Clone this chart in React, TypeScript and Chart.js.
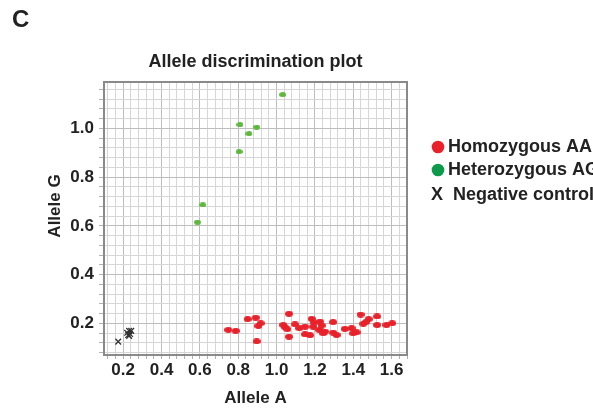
import { useEffect, useRef } from "react";
import { Chart, registerables } from "chart.js";
Chart.register(...registerables);

const seriesNames = ["Homozygous AA", "Heterozygous AG", "Negative control"];

const aaA = [0.748, 0.787, 0.849, 0.891, 0.917, 0.905, 0.896, 1.065, 1.035, 1.044, 1.056, 1.065, 1.096, 1.118, 1.148, 1.148, 1.174, 1.183, 1.195, 1.191, 1.226, 1.235, 1.222, 1.252, 1.243, 1.295, 1.295, 1.313, 1.356, 1.391, 1.399, 1.417, 1.438, 1.48, 1.466, 1.452, 1.524, 1.524, 1.573, 1.603];
const aaG = [0.173, 0.169, 0.217, 0.223, 0.2, 0.189, 0.126, 0.239, 0.193, 0.184, 0.176, 0.145, 0.196, 0.18, 0.186, 0.155, 0.151, 0.218, 0.203, 0.186, 0.207, 0.191, 0.173, 0.166, 0.159, 0.205, 0.162, 0.152, 0.177, 0.18, 0.159, 0.163, 0.236, 0.217, 0.205, 0.198, 0.228, 0.193, 0.193, 0.2];

const agA = [1.032, 0.809, 0.896, 0.856, 0.804, 0.615, 0.587];
const agG = [1.138, 1.015, 1.005, 0.978, 0.904, 0.686, 0.615];

const ncA = [0.221, 0.231, 0.236, 0.226, 0.242, 0.231, 0.174];
const ncG = [0.161, 0.169, 0.156, 0.152, 0.169, 0.148, 0.125];

const xTickLabels = [0.2, 0.4, 0.6, 0.8, 1.0, 1.2, 1.4, 1.6];
const yTickLabels = [0.2, 0.4, 0.6, 0.8, 1.0];

const FONT = "'Liberation Sans', Arial, Helvetica, sans-serif";

function ellipse(color: string, w: number, h: number) {
  const c = document.createElement("canvas");
  c.width = w;
  c.height = h;
  const g = c.getContext("2d")!;
  g.fillStyle = color;
  g.beginPath();
  g.ellipse(w / 2, h / 2, w / 2, h / 2, 0, 0, Math.PI * 2);
  g.fill();
  return c;
}

function pts(xs: number[], ys: number[]) {
  return xs.map((x, i) => ({ x, y: ys[i] }));
}

function gridTicks(scale: any, step: number) {
  const out: any[] = [];
  const start = Math.ceil(scale.min / step - 1e-9);
  const end = Math.floor(scale.max / step + 1e-9);
  for (let k = start; k <= end; k++) out.push({ value: Math.round(k * step * 1000) / 1000 });
  scale.ticks = out;
}

const isMajor = (v: number) => Math.abs(v * 5 - Math.round(v * 5)) < 1e-6;

const decorPlugin = {
  id: "decor",
  beforeDatasetsDraw(chart: any) {
    const { ctx, chartArea: a } = chart;
    ctx.save();
    ctx.strokeStyle = "#8a8a8a";
    ctx.lineWidth = 2;
    ctx.strokeRect(a.left, a.top, a.right - a.left, a.bottom - a.top);
    ctx.restore();
  },
  afterDraw(chart: any) {
    const ctx = chart.ctx;
    ctx.save();
    ctx.fillStyle = "#222";
    ctx.font = `bold 24px ${FONT}`;
    ctx.textAlign = "left";
    ctx.textBaseline = "alphabetic";
    ctx.fillText("C", 12, 27);

    ctx.font = `bold 17px ${FONT}`;
    ctx.save();
    ctx.translate(55, 206);
    ctx.rotate(-Math.PI / 2);
    ctx.textAlign = "center";
    ctx.textBaseline = "middle";
    ctx.fillText("Allele G", 0, 0);
    ctx.restore();

    ctx.font = `bold 18px ${FONT}`;
    const rowsY = [147, 170, 195];
    ctx.textBaseline = "middle";
    ctx.textAlign = "left";
    chart.data.datasets.forEach((ds: any, i: number) => {
      const y = rowsY[i];
      if (ds.legendMarker === "x") {
        ctx.fillStyle = "#222";
        ctx.fillText("X", 431, y);
        ctx.fillText(ds.label, 453, y);
      } else {
        ctx.fillStyle = ds.legendColor;
        ctx.beginPath();
        ctx.arc(438, y, 6.3, 0, Math.PI * 2);
        ctx.fill();
        ctx.fillStyle = "#222";
        ctx.fillText(ds.label, 448, y);
      }
    });
    ctx.restore();
  },
};

export default function App() {
  const ref = useRef<HTMLCanvasElement>(null);
  useEffect(() => {
    Chart.defaults.font.family = FONT;
    Chart.defaults.color = "#222";
    const chart = new Chart(ref.current!, {
      type: "scatter",
      data: {
        datasets: [
          {
            label: seriesNames[0],
            data: pts(aaA, aaG),
            pointStyle: ellipse("#e8212a", 8, 6) as any,
            legendColor: "#e8212a",
          } as any,
          {
            label: seriesNames[1],
            data: pts(agA, agG),
            pointStyle: ellipse("#5cb83a", 7, 5) as any,
            legendColor: "#0c9a4b",
          } as any,
          {
            label: seriesNames[2],
            data: pts(ncA, ncG),
            pointStyle: "crossRot",
            radius: 4,
            borderWidth: 1.3,
            borderColor: "#333",
            legendMarker: "x",
          } as any,
        ],
      },
      options: {
        animation: false,
        responsive: false,
        layout: { padding: { left: 0, right: 186, top: 0, bottom: 0 } },
        plugins: {
          legend: { display: false },
          tooltip: { enabled: false },
          title: {
            display: true,
            text: "Allele discrimination plot",
            fullSize: false,
            font: { size: 18, weight: "bold" },
            padding: { top: 51.4, bottom: 9 },
            color: "#222",
          },
        },
        scales: {
          x: {
            type: "linear",
            min: 0.1,
            max: 1.68,
            afterBuildTicks: (s: any) => gridTicks(s, 0.04),
            afterFit: (s: any) => {
              s.height = 57;
            },
            ticks: {
              autoSkip: false,
              maxRotation: 0,
              padding: 1,
              font: { size: 17, weight: "bold" },
              color: "#222",
              callback: (v: any) => (xTickLabels.some((t) => Math.abs(t - v) < 1e-6) ? Number(v).toFixed(1) : ""),
            },
            grid: {
              color: (c: any) => (isMajor(c.tick.value) ? "#bdbdbd" : "#d6d6d6"),
              tickColor: "#b0b0b0",
              tickLength: 4,
              drawTicks: true,
            },
            border: { display: false },
            title: {
              display: true,
              text: "Allele A",
              font: { size: 17, weight: "bold" },
              padding: { top: 0, bottom: 3 },
              color: "#222",
            },
          },
          y: {
            type: "linear",
            min: 0.07,
            max: 1.19,
            afterBuildTicks: (s: any) => gridTicks(s, 0.04),
            afterFit: (s: any) => {
              s.width = 104;
            },
            ticks: {
              autoSkip: false,
              padding: 5,
              font: { size: 17, weight: "bold" },
              color: "#222",
              callback: (v: any) => (yTickLabels.some((t) => Math.abs(t - v) < 1e-6) ? Number(v).toFixed(1) : ""),
            },
            grid: {
              color: (c: any) => (isMajor(c.tick.value) ? "#bdbdbd" : "#d6d6d6"),
              tickColor: "#b0b0b0",
              tickLength: 5,
              drawTicks: true,
            },
            border: { display: false },
          },
        },
      },
      plugins: [decorPlugin],
    });
    return () => chart.destroy();
  }, []);
  return (
    <div style={{ position: "absolute", left: 0, top: 0, width: 593, height: 412, background: "#fff" }}>
      <canvas ref={ref} width={593} height={412} />
    </div>
  );
}
